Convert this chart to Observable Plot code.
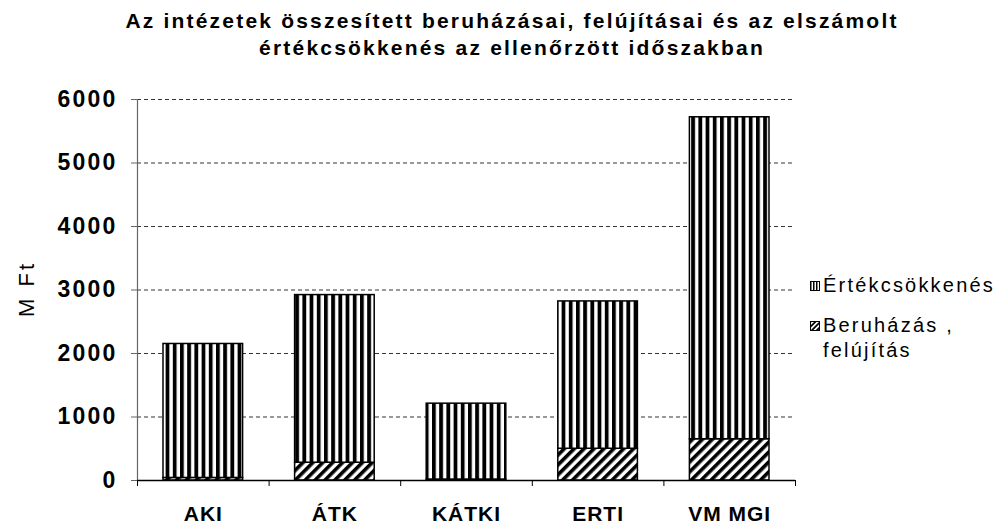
<!DOCTYPE html>
<html><head><meta charset="utf-8">
<script src="https://cdn.jsdelivr.net/npm/d3@7"></script>
<script src="https://cdn.jsdelivr.net/npm/@observablehq/plot@0.6"></script>
<style>
body{margin:0;background:#fff;font-family:"Liberation Sans",Arial,sans-serif;}
#wrap{position:relative;width:1006px;height:526px;overflow:hidden;}
#title{position:absolute;left:0;top:7px;width:1024px;text-align:center;font-weight:bold;font-size:21px;line-height:27px;letter-spacing:2.2px;color:#000;}
#chart{position:absolute;left:0;top:70px;}
#ylabel{position:absolute;left:27px;top:289px;transform:translate(-50%,-50%) rotate(-90deg);font-size:22px;letter-spacing:3px;white-space:nowrap;color:#000;}
#legend{position:absolute;left:810px;top:0;font-size:20px;letter-spacing:2.2px;color:#000;}
.li{position:absolute;left:0;white-space:nowrap;line-height:25px;}
.li svg{position:absolute;left:0;top:8px;}
.li span{position:absolute;left:13px;top:0;}
#chart svg [aria-label="y-axis tick label"] text{font-weight:bold;letter-spacing:2.2px;}
#chart svg [aria-label="x-axis tick label"] text{font-weight:bold;letter-spacing:1px;}
</style>
</head><body>
<div id="wrap">
  <div id="title">Az intézetek összesített beruházásai, felújításai és az elszámolt<br>értékcsökkenés az ellenőrzött időszakban</div>
  <div id="chart"></div>
  <div id="ylabel">M Ft</div>
  <div id="legend"></div>
</div>
<script>
const categories = ["AKI", "ÁTK", "KÁTKI", "ERTI", "VM MGI"];
const beruhazas = [40, 280, 15, 500, 650];
const ertekcsokkenes = [2110, 2640, 1195, 2320, 5070];
const yTicks = [0, 1000, 2000, 3000, 4000, 5000, 6000];
const seriesNames = ["Beruházás, felújítás", "Értékcsökkenés"];
const legendLabels = ["Értékcsökkenés", "Beruházás ,<br>felújítás"];
const fills = ["url(#hatch)", "url(#vstripe)"];

const rows = [];
categories.forEach((c, i) => {
  rows.push({i, cat: c, s: 0, value: beruhazas[i]});
  rows.push({i, cat: c, s: 1, value: ertekcsokkenes[i]});
});
const boundaries = d3.range(categories.length + 1);
const centers = categories.map((c, i) => i + 0.5);

const chart = Plot.plot({
  width: 1006, height: 456,
  marginLeft: 137, marginRight: 211, marginTop: 29, marginBottom: 46,
  style: {fontFamily: '"Liberation Sans", Arial, sans-serif', color: "#000", background: "transparent"},
  x: {domain: [0, categories.length], axis: null, label: null},
  y: {domain: [0, 6000], axis: null, label: null},
  color: {type: "identity"},
  marks: [
    Plot.gridY(yTicks.filter(v => v > 0), {stroke: "#333", strokeOpacity: 1, strokeWidth: 1, strokeDasharray: "4,3"}),
    Plot.rectY(rows, Plot.stackY({
      x1: "i", x2: d => d.i + 1, y: "value", z: "s",
      fill: d => fills[d.s], stroke: "#000", strokeWidth: 1.5,
      insetLeft: 26, insetRight: 26, order: null
    })),
    Plot.ruleX([0], {stroke: "#666", strokeWidth: 1.2}),
    Plot.axisY(yTicks, {tickSize: 6, tickPadding: 14, fontSize: 23, stroke: "#666",
      tickFormat: d => String(d), label: null}),
    Plot.ruleY([0], {stroke: "#000", strokeWidth: 1.5}),
    Plot.axisX(boundaries, {tickSize: 6, tickFormat: () => "", stroke: "#000", label: null}),
    Plot.axisX(centers, {tickSize: 0, tickPadding: 26, fontSize: 21, tickFormat: v => categories[Math.round(v - 0.5)], label: null})
  ]
});

// patterns
const defs = d3.select(chart).insert("defs", ":first-child");
const vp = defs.append("pattern").attr("id", "vstripe").attr("patternUnits", "userSpaceOnUse").attr("width", 7.2).attr("height", 10);
vp.append("rect").attr("width", 7.2).attr("height", 10).attr("fill", "#fff");
vp.append("rect").attr("width", 3.8).attr("height", 10).attr("fill", "#000");
const hp = defs.append("pattern").attr("id", "hatch").attr("patternUnits", "userSpaceOnUse").attr("width", 7).attr("height", 10).attr("patternTransform", "rotate(45)");
hp.append("rect").attr("width", 7).attr("height", 10).attr("fill", "#fff");
hp.append("rect").attr("width", 3.6).attr("height", 10).attr("fill", "#000");
const vs = defs.append("pattern").attr("id", "vstripeS").attr("patternUnits", "userSpaceOnUse").attr("width", 3).attr("height", 10);
vs.append("rect").attr("width", 3).attr("height", 10).attr("fill", "#fff");
vs.append("rect").attr("width", 1.5).attr("height", 10).attr("fill", "#000");
const hs = defs.append("pattern").attr("id", "hatchS").attr("patternUnits", "userSpaceOnUse").attr("width", 3.5).attr("height", 10).attr("patternTransform", "rotate(45)");
hs.append("rect").attr("width", 3.5).attr("height", 10).attr("fill", "#fff");
hs.append("rect").attr("width", 1.8).attr("height", 10).attr("fill", "#000");

document.getElementById("chart").appendChild(chart);

// legend
const legend = document.getElementById("legend");
const legendTops = [273, 313];
const swatchFills = ["url(#vstripeS)", "url(#hatchS)"];
legendLabels.forEach((t, k) => {
  const d = document.createElement("div");
  d.className = "li";
  d.style.top = legendTops[k] + "px";
  d.innerHTML = `<svg width="10" height="10"><rect x="0.5" y="0.5" width="9" height="9" fill="${swatchFills[k]}" stroke="#000"/></svg><span>${t}</span>`;
  legend.appendChild(d);
});
</script>
</body></html>
